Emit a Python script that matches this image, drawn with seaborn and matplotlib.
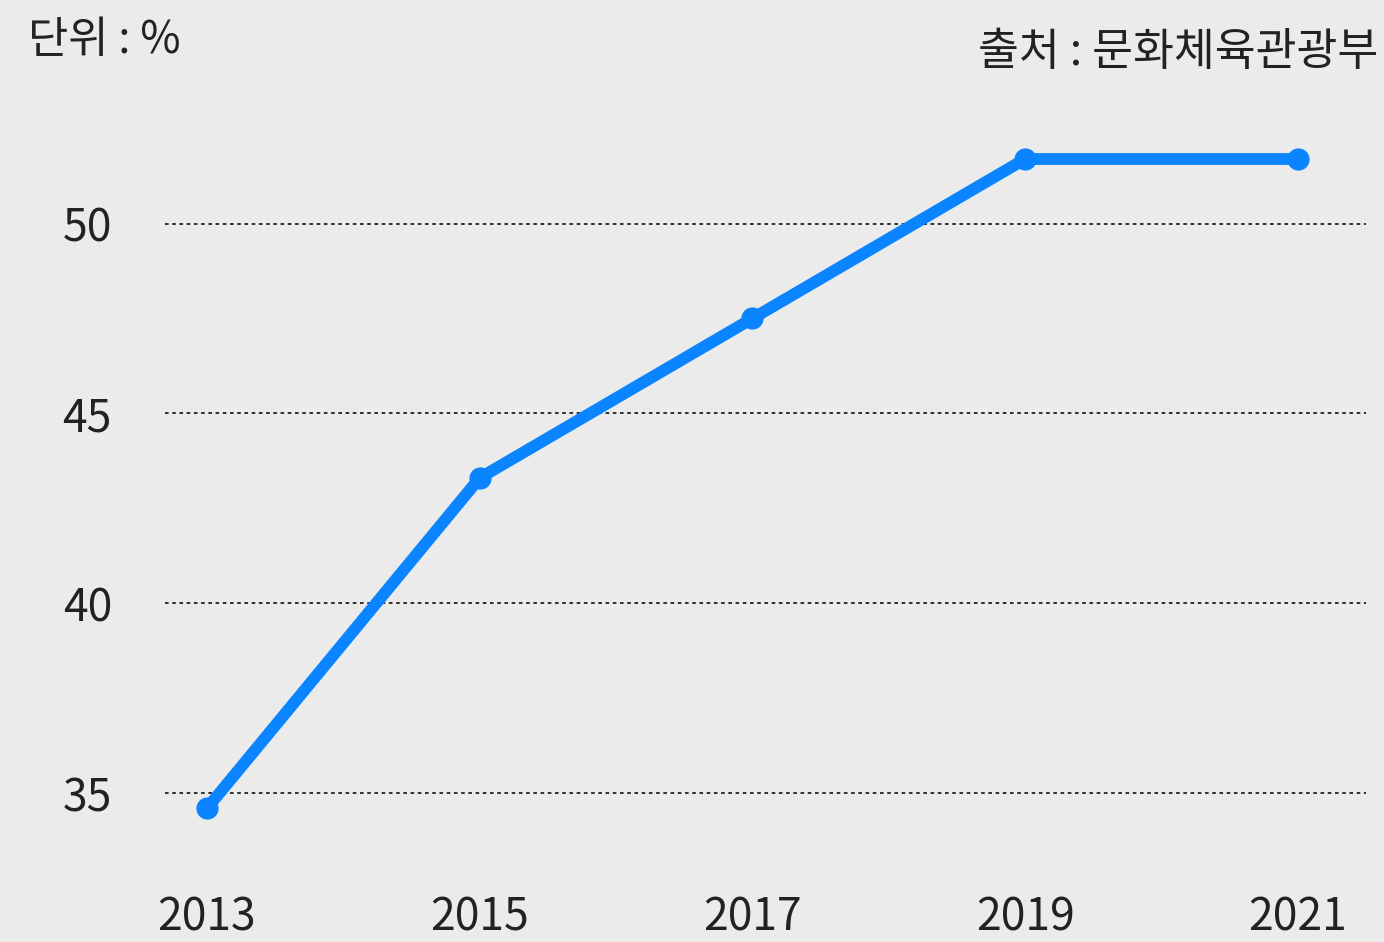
import matplotlib
matplotlib.use("Agg")
import matplotlib.pyplot as plt
import pandas as pd
import seaborn as sns

YEARS = [2013, 2015, 2017, 2019, 2021]
VALUES = [34.6, 43.3, 47.5, 51.7, 51.7]
Y_TICKS = [35, 40, 45, 50]

BG = "#ebebeb"
LINE_COLOR = "#0a84ff"

sns.set_style("white", {"axes.facecolor": BG, "figure.facecolor": BG})
plt.rcParams["font.family"] = ["Noto Sans CJK KR", "DejaVu Sans"]

df = pd.DataFrame({"year": YEARS, "value": VALUES})

fig = plt.figure(figsize=(13.84, 9.42), dpi=100)
ax = fig.add_axes([0.119, 0.0976, 0.868, 0.786])

sns.lineplot(data=df, x="year", y="value", ax=ax, color=LINE_COLOR,
             linewidth=8.5, marker="o", markersize=16,
             markeredgewidth=0, solid_capstyle="round")

# dotted horizontal guides
for t in Y_TICKS:
    ax.axhline(t, color="#222222", linestyle=(0, (2, 2)), linewidth=1.3, zorder=0)

ax.set_xlim(2012.69, 2021.5)
ax.set_ylim(33.5, 53)
ax.set_xticks(YEARS)
ax.set_xticklabels([str(y) for y in YEARS])
ax.set_yticks(Y_TICKS)
ax.tick_params(axis="both", length=0, labelsize=32, colors="#222222")
ax.tick_params(axis="y", pad=38)
ax.tick_params(axis="x", pad=32)
ax.set_xlabel("")
ax.set_ylabel("")
for s in ax.spines.values():
    s.set_visible(False)

fig.text(0.02, 0.958, "단위 : %", fontsize=31.5, color="#222222", va="center", ha="left")
fig.text(0.996, 0.945, "출처 : 문화체육관광부", fontsize=32, color="#222222",
         va="center", ha="right")

fig.savefig("out.png", dpi=100, facecolor=BG)
plt.close(fig)
